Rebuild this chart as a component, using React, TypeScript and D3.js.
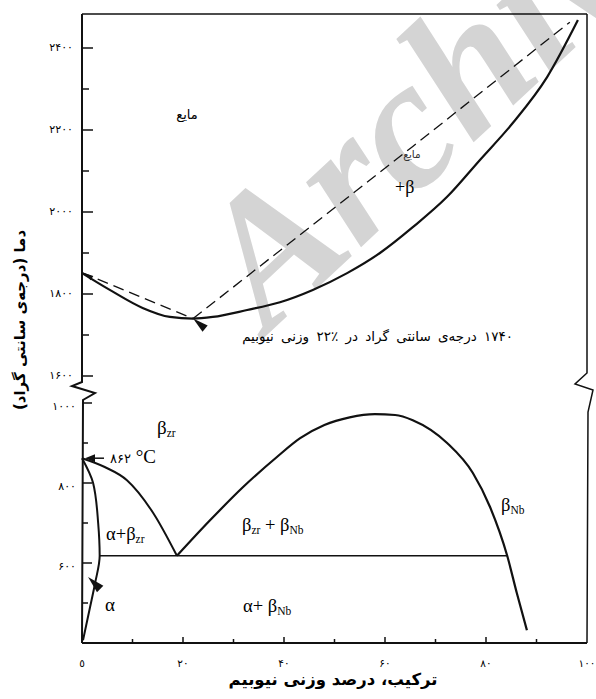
import React from "react";
import * as d3 from "d3";

// Zr–Nb phase diagram, composition in wt% Nb, temperature in °C
const liquidusLeft = [[0, 1852], [22, 1740]];
const liquidusRight = [[22, 1740], [65.5, 2160], [96.6, 2463]];
const solidusUpper = [
  [0, 1851], [5.5, 1810], [12, 1766], [17.4, 1744], [22, 1740], [25.9, 1744],
  [32.7, 1761], [39.2, 1780], [45.7, 1810], [52.5, 1851], [59, 1900], [65.5, 1963],
  [72.3, 2037], [78.8, 2127], [85.3, 2217], [92.1, 2329], [98.2, 2468],
];
const betaZrBoundary = [[0, 862], [4.5, 840], [8.9, 807], [14.1, 725], [18.8, 618]];
const domeBoundary = [
  [18.8, 618], [25.3, 706], [31.9, 790], [38.6, 865], [43.2, 912], [48, 945],
  [53, 964], [58, 972], [62, 970], [65.5, 957], [72.3, 900], [77.4, 825],
  [80.8, 740], [84.2, 618], [86.1, 525], [88.1, 432],
];
const alphaBoundary = [[0, 862], [2.2, 800], [3.2, 700], [3.5, 618], [2.6, 550], [1.6, 490], [0.2, 407]];
const monotectoid = [[3.5, 618], [84.2, 618]];

const upperMajor = [1600, 1800, 2000, 2200, 2400];
const upperLabels = ["۱۶۰۰", "۱۸۰۰", "۲۰۰۰", "۲۲۰۰", "۲۴۰۰"];
const upperMinor = [1700, 1900, 2100, 2300];
const lowerMajor = [600, 800, 1000];
const lowerLabels = ["۶۰۰", "۸۰۰", "۱۰۰۰"];
const lowerMinor = [500, 700, 900];
const xMajor = [0, 20, 40, 60, 80, 100];
const xLabels = ["٥", "۲۰", "۴۰", "۶۰", "۸۰", "۱۰۰"];
const xMinor = [10, 30, 50, 70, 90];

const W = 596;
const H = 699;
const x = d3.scaleLinear().domain([0, 100]).range([82, 587]);
const yUp = d3.scaleLinear().domain([1600, 2400]).range([376, 48]);
const yLo = d3.scaleLinear().domain([400, 1000]).range([643, 403]);

const FA = "'DejaVu Sans', sans-serif";
const SERIF = "'Liberation Serif', 'Times New Roman', serif";

const upLine = d3.line<number[]>().x((d) => x(d[0])).y((d) => yUp(d[1])).curve(d3.curveMonotoneX);
const upStraight = d3.line<number[]>().x((d) => x(d[0])).y((d) => yUp(d[1]));
const loStraight = d3.line<number[]>().x((d) => x(d[0])).y((d) => yLo(d[1]));
const loLine = d3.line<number[]>().x((d) => x(d[0])).y((d) => yLo(d[1])).curve(d3.curveMonotoneX);
const loLineY = d3.line<number[]>().x((d) => x(d[0])).y((d) => yLo(d[1])).curve(d3.curveMonotoneY);

// filled arrow head: tip point and the point its base is centred on
function head(tx: number, ty: number, bx: number, by: number, hw: number) {
  const a = Math.atan2(ty - by, tx - bx);
  const px = -Math.sin(a) * hw;
  const py = Math.cos(a) * hw;
  return `M${tx},${ty}L${bx + px},${by + py}L${bx - px},${by - py}Z`;
}

export default function App() {
  const top = 14;
  const left = x(0);
  const right = x(100);
  const bottom = yLo(400);
  const bTop = yUp(1600) + 6;
  const bBot = yLo(1000) - 3;

  const leftAxis = `M${left},${top}L${left},${bTop}L${left - 10},${bTop + 4}L${left + 13},${bTop + 11}L${left + 1},${bBot}L${left},${bottom}`;
  const rightAxis = `M${right},${top}L${right},${bTop - 9}L${right - 12},${bTop + 2}L${right + 6},${bTop + 8}L${right + 1},${bBot + 12}L${right},${bottom}`;

  const t862 = yLo(862);
  const minX = x(22);
  const minY = yUp(1740);

  return (
    <svg width={W} height={H} style={{ position: "absolute", left: 0, top: 0, background: "#fff" }}>
      {/* watermark */}
      <text
        x={0}
        y={0}
        transform="translate(268,334) rotate(-43)"
        fontFamily={SERIF}
        fontWeight="bold"
        fontStyle="italic"
        fontSize={185}
        fill="#d4d4d4"
      >
        Archive
      </text>

      {/* frame */}
      <line x1={left} y1={top} x2={right} y2={top} stroke="#111" strokeWidth={1.5} />
      <line x1={left} y1={bottom} x2={right} y2={bottom} stroke="#111" strokeWidth={1.8} />
      <path d={leftAxis} fill="none" stroke="#111" strokeWidth={2} />
      <path d={rightAxis} fill="none" stroke="#111" strokeWidth={1.5} />

      {/* ticks */}
      {upperMajor.map((v, i) => (
        <g key={"um" + v}>
          <line x1={left} x2={left + 11} y1={yUp(v)} y2={yUp(v)} stroke="#111" strokeWidth={1.5} />
          <text x={73} y={yUp(v) - 1} dy="0.35em" textAnchor="end" fontFamily={FA} fontSize={11} letterSpacing={1}>
            {upperLabels[i]}
          </text>
        </g>
      ))}
      {upperMinor.map((v) => (
        <line key={"un" + v} x1={left} x2={left + 7} y1={yUp(v)} y2={yUp(v)} stroke="#111" strokeWidth={1.5} />
      ))}
      {lowerMajor.map((v, i) => (
        <g key={"lm" + v}>
          <line x1={left} x2={left + 10} y1={yLo(v)} y2={yLo(v)} stroke="#111" strokeWidth={1.5} />
          <text x={76} y={yLo(v) + 3} dy="0.35em" textAnchor="end" fontFamily={FA} fontSize={11} letterSpacing={1}>
            {lowerLabels[i]}
          </text>
        </g>
      ))}
      {lowerMinor.map((v) => (
        <line key={"ln" + v} x1={left} x2={left + 6} y1={yLo(v)} y2={yLo(v)} stroke="#111" strokeWidth={1.5} />
      ))}
      {xMajor.map((v, i) => (
        <g key={"xm" + v}>
          {v > 0 && v < 100 && <line x1={x(v)} x2={x(v)} y1={bottom} y2={bottom - 6} stroke="#111" strokeWidth={1.5} />}
          <text x={x(v)} y={663} dy="0.35em" textAnchor="middle" fontFamily={FA} fontSize={10.5} letterSpacing={1}>
            {xLabels[i]}
          </text>
        </g>
      ))}
      {xMinor.map((v) => (
        <line key={"xn" + v} x1={x(v)} x2={x(v)} y1={bottom} y2={bottom - 4} stroke="#111" strokeWidth={1.5} />
      ))}

      {/* liquid region */}
      <path d={upStraight(liquidusLeft) || ""} fill="none" stroke="#111" strokeWidth={1.3} strokeDasharray="11 6" />
      <path d={upStraight(liquidusRight) || ""} fill="none" stroke="#111" strokeWidth={1.3} strokeDasharray="11 6" />
      <path d={upLine(solidusUpper) || ""} fill="none" stroke="#111" strokeWidth={2.2} />
      <path d={head(minX, minY, minX + 12, minY + 10, 4)} fill="#111" />
      <path d={head(left + 2, yUp(1851), left + 10, yUp(1851) + 5, 2.5)} fill="#111" />

      {/* solid state */}
      <path d={loLine(betaZrBoundary) || ""} fill="none" stroke="#111" strokeWidth={2} />
      <path d={loLine(domeBoundary) || ""} fill="none" stroke="#111" strokeWidth={2.2} />
      <path d={loLineY(alphaBoundary) || ""} fill="none" stroke="#111" strokeWidth={2} />
      <path d={loStraight(monotectoid) || ""} fill="none" stroke="#111" strokeWidth={1.6} />
      <path d={head(x(1.2), yLo(565), x(3.6), yLo(535), 4.5)} fill="#111" />
      <line x1={left + 22} y1={t862} x2={left + 10} y2={t862} stroke="#111" strokeWidth={1.5} />
      <path d={head(left + 3, t862, left + 13, t862, 4)} fill="#111" />

      {/* labels */}
      <text x={187} y={119} textAnchor="middle" direction="rtl" fontFamily={FA} fontSize={13}>مایع</text>
      <text x={412} y={158} textAnchor="middle" direction="rtl" fontFamily={FA} fontSize={10.5} fill="#333">مایع</text>
      <text x={395} y={193} fontFamily={SERIF} fontSize={18}>+β</text>
      <text x={513} y={341} textAnchor="start" direction="rtl" fontFamily={FA} fontSize={13.5} wordSpacing={3}>
        ۱۷۴۰ درجه‌ی سانتی گراد در ٪۲۲ وزنی نیوبیم
      </text>

      <text x={157} y={434} fontFamily={SERIF} fontSize={19}>
        β<tspan fontSize={11.5} dy={3}>zr</tspan>
      </text>
      <text x={110} y={463} fontFamily={SERIF} fontSize={19}>
        <tspan fontFamily={FA} fontSize={13}>۸۶۲</tspan> °C
      </text>
      <text x={106} y={540} fontFamily={SERIF} fontSize={18.5}>
        α+β<tspan fontSize={11.5} dy={3}>zr</tspan>
      </text>
      <text x={242} y={531} fontFamily={SERIF} fontSize={18.5}>
        β<tspan fontSize={11.5} dy={3}>zr</tspan>
        <tspan dy={-3}> + β</tspan>
        <tspan fontSize={11.5} dy={3}>Nb</tspan>
      </text>
      <text x={501} y={511} fontFamily={SERIF} fontSize={18.5}>
        β<tspan fontSize={11.5} dy={3}>Nb</tspan>
      </text>
      <text x={105} y={611} fontFamily={SERIF} fontSize={19}>α</text>
      <text x={243} y={612} fontFamily={SERIF} fontSize={18.5}>
        α+ β<tspan fontSize={11.5} dy={3}>Nb</tspan>
      </text>

      {/* axis titles */}
      <text
        transform={`translate(25,${320}) rotate(-90)`}
        textAnchor="middle"
        direction="rtl"
        fontFamily={FA}
        fontWeight="bold"
        fontSize={15}
      >
        دما (درجه‌ی سانتی گراد)
      </text>
      <text x={333} y={685} textAnchor="middle" direction="rtl" fontFamily={FA} fontWeight="bold" fontSize={16.5}>
        ترکیب، درصد وزنی نیوبیم
      </text>
    </svg>
  );
}
